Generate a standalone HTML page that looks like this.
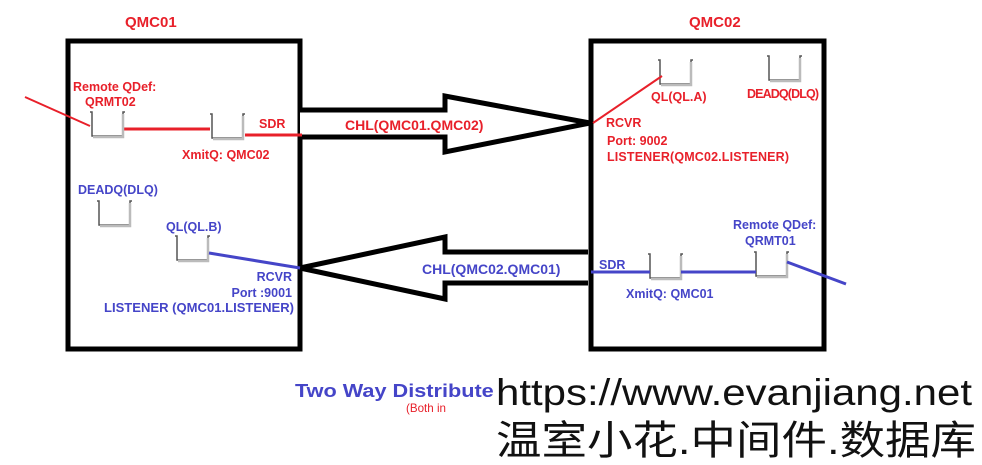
<!DOCTYPE html>
<html><head><meta charset="utf-8"><style>
body{margin:0;background:#fff;width:982px;height:465px;overflow:hidden}
svg{display:block}
text{font-family:"Liberation Sans",Arial,sans-serif;font-weight:bold}
text.n{font-weight:normal}
</style></head><body>
<svg width="982" height="465" xmlns="http://www.w3.org/2000/svg">
<defs>
<g id="q"><path d="M0 0 H2 V24 H33 V0 H35" fill="none" stroke="#555" stroke-width="1.5"/><path d="M3 25 H33 V2" fill="none" stroke="#bbb" stroke-width="2.5"/></g>
</defs>
<rect x="68" y="41" width="232" height="308" fill="none" stroke="#000" stroke-width="5"/>
<rect x="591" y="41" width="233" height="308" fill="none" stroke="#000" stroke-width="5"/>
<text x="125" y="27" fill="#e8202a" font-size="15">QMC01</text>
<text x="689" y="27" fill="#e8202a" font-size="15">QMC02</text>
<path d="M300 110 H445 V96 L590 123 L445 152 V137 H300" fill="#fff" stroke="#000" stroke-width="5"/>
<path d="M588 252 H445 V237 L300 268 L445 299 V283 H588" fill="#fff" stroke="#000" stroke-width="5"/>
<text x="345" y="130" fill="#e8202a" font-size="14">CHL(QMC01.QMC02)</text>
<text x="422" y="274" fill="#4545c8" font-size="14">CHL(QMC02.QMC01)</text>
<line x1="25" y1="97" x2="90" y2="126" stroke="#e8202a" stroke-width="2"/>
<line x1="124" y1="129" x2="210" y2="129" stroke="#e8202a" stroke-width="3"/>
<line x1="245" y1="135" x2="302" y2="135" stroke="#e8202a" stroke-width="3"/>
<use href="#q" x="90" y="112"/>
<use href="#q" x="210" y="114"/>
<use href="#q" x="97" y="201"/>
<use href="#q" x="175" y="236"/>
<text x="73" y="91" fill="#e8202a" font-size="12.5">Remote QDef:</text>
<text x="85" y="106" fill="#e8202a" font-size="12.5">QRMT02</text>
<text x="259" y="128" fill="#e8202a" font-size="12.5">SDR</text>
<text x="182" y="159" fill="#e8202a" font-size="12.5">XmitQ: QMC02</text>
<text x="78" y="194" fill="#4545c8" font-size="12.5">DEADQ(DLQ)</text>
<text x="166" y="231" fill="#4545c8" font-size="12.5">QL(QL.B)</text>
<line x1="209" y1="253" x2="300" y2="268" stroke="#4545c8" stroke-width="3"/>
<text x="292" y="281" fill="#4545c8" font-size="12.5" text-anchor="end">RCVR</text>
<text x="292" y="297" fill="#4545c8" font-size="12.5" text-anchor="end">Port :9001</text>
<text x="104" y="312" fill="#4545c8" font-size="12.5" textLength="190" lengthAdjust="spacingAndGlyphs">LISTENER  (QMC01.LISTENER)</text>
<use href="#q" x="658" y="60"/>
<use href="#q" x="767" y="56"/>
<use href="#q" x="648" y="254"/>
<use href="#q" x="754" y="252"/>
<line x1="593" y1="123" x2="662" y2="76" stroke="#e8202a" stroke-width="2"/>
<text x="651" y="101" fill="#e8202a" font-size="12.5">QL(QL.A)</text>
<text x="747" y="98" fill="#e8202a" font-size="12.5" textLength="72">DEADQ(DLQ)</text>
<text x="606" y="127" fill="#e8202a" font-size="12.5">RCVR</text>
<text x="607" y="145" fill="#e8202a" font-size="12.5">Port: 9002</text>
<text x="607" y="161" fill="#e8202a" font-size="12.5" textLength="182">LISTENER(QMC02.LISTENER)</text>
<text x="733" y="229" fill="#4545c8" font-size="12.5">Remote QDef:</text>
<text x="745" y="245" fill="#4545c8" font-size="12.5">QRMT01</text>
<text x="599" y="269" fill="#4545c8" font-size="12.5">SDR</text>
<line x1="591" y1="272" x2="650" y2="272" stroke="#4545c8" stroke-width="3"/>
<line x1="681" y1="272" x2="756" y2="272" stroke="#4545c8" stroke-width="3"/>
<line x1="787" y1="262" x2="846" y2="284" stroke="#4545c8" stroke-width="3"/>
<text x="626" y="298" fill="#4545c8" font-size="12.5">XmitQ: QMC01</text>
<text x="295" y="397" fill="#4545c8" font-size="18" textLength="212" lengthAdjust="spacingAndGlyphs">Two Way Distributed</text>
<text class="n" x="406" y="412" fill="#e8202a" font-size="12" textLength="40" lengthAdjust="spacingAndGlyphs">(Both in</text>
<rect x="494" y="372" width="60" height="45" fill="#fff"/>
<text class="n" x="496" y="405" fill="#111" font-size="37" textLength="476" lengthAdjust="spacingAndGlyphs">https://www.evanjiang.net</text>
<text class="n" x="496" y="454" fill="#111" font-size="40" style="font-family:'Liberation Sans','Noto Sans CJK SC',sans-serif" textLength="480" lengthAdjust="spacingAndGlyphs">温室小花.中间件.数据库</text>
</svg>
</body></html>
